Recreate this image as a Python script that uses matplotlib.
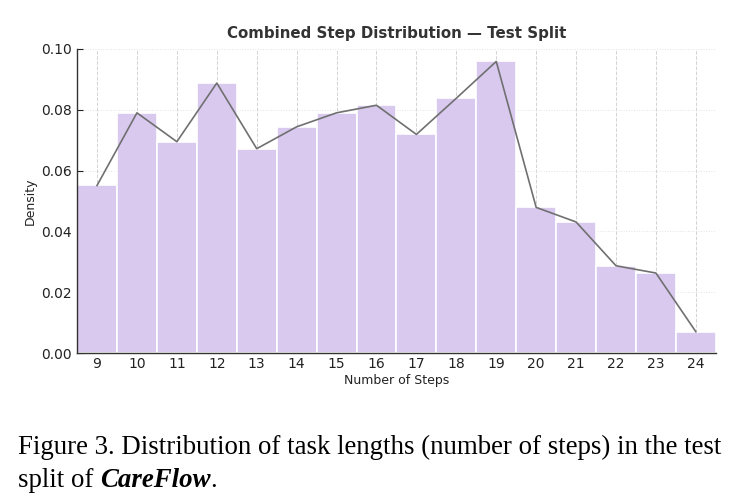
import os
import numpy as np
import matplotlib
matplotlib.use("Agg")
import matplotlib.pyplot as plt
from matplotlib.font_manager import FontProperties

plt.rcParams['font.family'] = 'DejaVu Sans'
TTF = os.path.join(matplotlib.get_data_path(), 'fonts', 'ttf')

# number of steps per task (bin centres) and the density of each
steps = [9, 10, 11, 12, 13, 14, 15, 16, 17, 18, 19, 20, 21, 22, 23, 24]
density = [0.0551, 0.0790, 0.0695, 0.0888, 0.0672, 0.0744, 0.0790, 0.0815,
           0.0719, 0.0838, 0.0959, 0.0479, 0.0431, 0.0287, 0.0263, 0.0070]
y_ticks = [0.00, 0.02, 0.04, 0.06, 0.08, 0.10]

BAR_COLOR = '#d9c9ef'
LINE_COLOR = '#707070'

fig = plt.figure(figsize=(7.41, 5.04), dpi=100)
ax = fig.add_axes([0.104, 0.2996, 0.862, 0.6032])

ax.bar(steps, density, width=1.0, color=BAR_COLOR, edgecolor='white',
       linewidth=1.2, zorder=2)
ax.plot(steps, density, color=LINE_COLOR, linewidth=1.2, zorder=3)

ax.set_xlim(8.5, 24.5)
ax.set_ylim(0, 0.1)
ax.set_xticks(steps)
ax.set_yticks(y_ticks)
ax.set_yticklabels([f"{v:.2f}" for v in y_ticks])

ax.xaxis.grid(True, linestyle='--', color='#c8c8c8', linewidth=0.7)
ax.yaxis.grid(True, linestyle=':', color='#dddddd', linewidth=0.7)
for line in ax.get_xgridlines() + ax.get_ygridlines():
    line.set_zorder(2.5)
    line.set_alpha(0.8)

for side in ['top', 'right']:
    ax.spines[side].set_visible(False)
for side in ['left', 'bottom']:
    ax.spines[side].set_color('#333333')
    ax.spines[side].set_linewidth(1.0)

ax.tick_params(direction='in', length=4, width=0.8, colors='#222222',
               labelsize=10)
ax.tick_params(axis='x', pad=3)
ax.tick_params(axis='y', pad=4)
title_font = FontProperties(fname=os.path.join(TTF, 'DejaVuSans-Bold.ttf'), size=10.8)
ax.set_title('Combined Step Distribution — Test Split', fontproperties=title_font,
             color='#333333', pad=8)
ax.set_xlabel('Number of Steps', fontsize=9, color='#222222', labelpad=2)
ax.set_ylabel('Density', fontsize=9, color='#222222', labelpad=3)

# caption below the chart
cap = dict(family='Liberation Serif', fontsize=19.4, color='black')
fig.text(0.024, 0.1, 'Figure 3. Distribution of task lengths (number of steps) in the test', **cap)
t1 = fig.text(0.024, 0.034, 'split of ', **cap)
fig.canvas.draw()
r = fig.canvas.get_renderer()
bb = t1.get_window_extent(r)
t2 = fig.text(bb.x1 / fig.bbox.width, 0.034, 'CareFlow', fontweight='bold',
              style='italic', **cap)
bb2 = t2.get_window_extent(r)
fig.text(bb2.x1 / fig.bbox.width, 0.034, '.', **cap)

fig.savefig('out.png', dpi=100, facecolor='white')
